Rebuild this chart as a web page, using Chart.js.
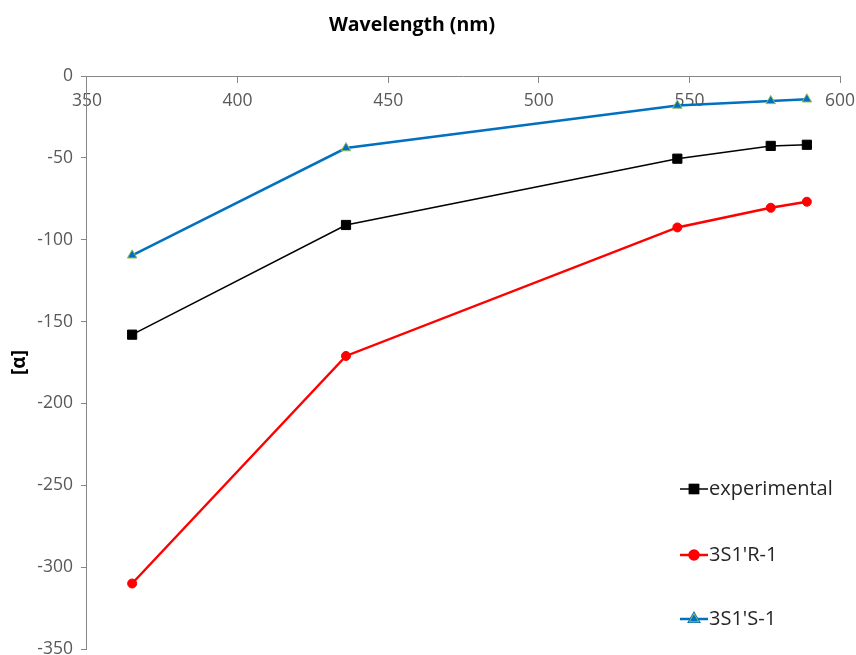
<!DOCTYPE html>
<html>
<head>
<meta charset="utf-8">
<script src="https://cdn.jsdelivr.net/npm/chart.js@4"></script>
<style>
  html, body { margin: 0; padding: 0; background: #fff; }
  #wrap { width: 856px; height: 655px; }
</style>
</head>
<body>
<div id="wrap"><canvas id="rotChart"></canvas></div>
<script>
// =========================
// DATA
// =========================
const wavelengths = [365, 436, 546, 577, 589];
const experimental = [-158, -91, -50.5, -42.7, -42];
const calcR = [-310, -171, -92.5, -80.5, -76.8];
const calcS = [-109.5, -44, -18, -15.2, -14.2];

const xTicks = [350, 400, 450, 500, 550, 600];
const yTicks = [0, -50, -100, -150, -200, -250, -300, -350];

const FONT = "'Open Sans', sans-serif";

function toPoints(values) {
  return wavelengths.map((x, i) => ({ x: x, y: values[i] }));
}

// =========================
// TITLE + LEGEND PLUGIN
// =========================
const overlay = {
  id: "overlay",
  afterDraw(chart) {
    const ctx = chart.ctx;
    ctx.save();
    ctx.fillStyle = "#000";
    ctx.font = "bold 19.5px " + FONT;
    ctx.textAlign = "center";
    ctx.textBaseline = "middle";
    ctx.fillText("Wavelength (nm)", 412, 25);

    const rows = [489, 555, 619];
    chart.data.datasets.forEach((ds, i) => {
      const y = rows[i];
      ctx.strokeStyle = ds.borderColor;
      ctx.lineWidth = ds.borderWidth;
      ctx.beginPath();
      ctx.moveTo(680, y);
      ctx.lineTo(708, y);
      ctx.stroke();
      Chart.helpers.drawPoint(ctx, {
        pointStyle: ds.pointStyle,
        radius: ds.pointRadius,
        borderWidth: ds.pointBorderWidth
      }, 694, y);
      ctx.fillStyle = ds.pointBackgroundColor;
      ctx.strokeStyle = ds.pointBorderColor;
      ctx.lineWidth = ds.pointBorderWidth;
      ctx.fill();
      ctx.stroke();
      ctx.fillStyle = "#262626";
      ctx.font = "20px " + FONT;
      ctx.textAlign = "left";
      ctx.fillText(ds.label, 709, y);
    });
    ctx.restore();
  }
};

// =========================
// RENDER CHART
// =========================
new Chart(document.getElementById("rotChart"), {
  type: "line",
  data: {
    datasets: [
      {
        label: "experimental",
        data: toPoints(experimental),
        borderColor: "#000000",
        borderWidth: 1.5,
        pointStyle: "rect",
        pointRadius: 6.5,
        pointBorderWidth: 1,
        pointBackgroundColor: "#000000",
        pointBorderColor: "#000000"
      },
      {
        label: "3S1'R-1",
        data: toPoints(calcR),
        borderColor: "#FF0000",
        borderWidth: 2.5,
        pointStyle: "circle",
        pointRadius: 4.5,
        pointBorderWidth: 1,
        pointBackgroundColor: "#FF0000",
        pointBorderColor: "#FF0000"
      },
      {
        label: "3S1'S-1",
        data: toPoints(calcS),
        borderColor: "#0070C0",
        borderWidth: 2.5,
        pointStyle: "triangle",
        pointRadius: 5.5,
        pointBorderWidth: 1,
        pointBackgroundColor: "#0070C0",
        pointBorderColor: "#9BBB59"
      }
    ]
  },
  options: {
    responsive: true,
    maintainAspectRatio: false,
    animation: false,
    layout: { autoPadding: false, padding: { top: 76, right: 16, bottom: 6, left: 0 } },
    plugins: {
      legend: { display: false },
      tooltip: { enabled: false }
    },
    scales: {
      x: {
        type: "linear",
        position: { y: 0 },
        min: 350,
        max: 600,
        afterBuildTicks: axis => { axis.ticks = xTicks.map(v => ({ value: v })); },
        afterFit: axis => { axis.paddingLeft = 0; axis.paddingRight = 0; },
        grid: { drawOnChartArea: false, color: "#868686", tickLength: 6 },
        border: { color: "#868686", width: 1 },
        ticks: { color: "#595959", font: { family: FONT, size: 17.5 }, padding: 9, maxRotation: 0 }
      },
      y: {
        type: "linear",
        min: -350,
        max: 0,
        afterBuildTicks: axis => { axis.ticks = yTicks.map(v => ({ value: v })); },
        afterFit: axis => { axis.paddingBottom = 0; axis.paddingTop = 0; },
        grid: { drawOnChartArea: false, color: "#868686", tickLength: 6 },
        border: { color: "#868686", width: 1 },
        ticks: { color: "#595959", font: { family: FONT, size: 17.5 }, padding: 8 },
        title: {
          display: true,
          text: "[α]",
          color: "#000",
          font: { family: FONT, size: 19, weight: "bold" },
          padding: { top: 8, bottom: -1.5 }
        }
      }
    }
  },
  plugins: [overlay]
});
</script>
</body>
</html>
